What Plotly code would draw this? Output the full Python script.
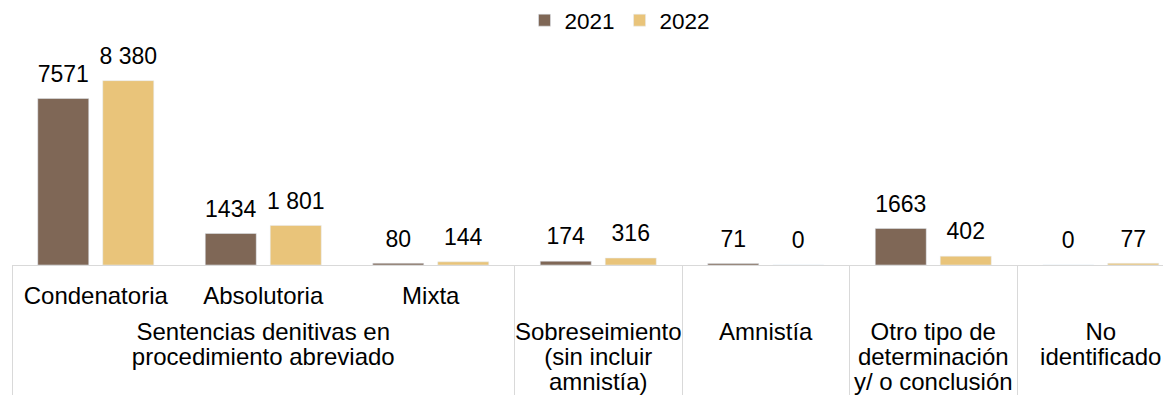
import plotly.graph_objects as go

# Data
group_lines = [
    ["Sentencias denitivas en", "procedimiento abreviado"],
    ["Sentencias denitivas en", "procedimiento abreviado"],
    ["Sentencias denitivas en", "procedimiento abreviado"],
    ["Sobreseimiento", "(sin incluir", "amnistía)"],
    ["Amnistía"],
    ["Otro tipo de", "determinación", "y/ o conclusión"],
    ["No", "identificado"],
]
subcategories = ["Condenatoria", "Absolutoria", "Mixta", " ", " ", " ", " "]
values_2021 = [7571, 1434, 80, 174, 71, 1663, 0]
values_2022 = [8380, 1801, 144, 316, 0, 402, 77]
series_names = ["2021", "2022"]

labels_2021 = [str(v) for v in values_2021]
labels_2022 = [f"{v:,}".replace(",", " ") for v in values_2022]

FONT = "Arial, Liberation Sans, sans-serif"
C2021 = "#7F6756"
C2022 = "#E9C47A"
LABEL_SIZE = 23
TICK_SIZE = 24


def transp(px):
    return f"<span style='font-size:{px}px;color:rgba(0,0,0,0)'>.</span>"


def padded(labels):
    # value label on line 1; a small transparent second line keeps a gap above the bar
    return [f"<span style='font-size:{LABEL_SIZE}px'>{t}</span><br>{transp(8)}" for t in labels]


group_text = ["<br>".join(f"<span style='font-size:{TICK_SIZE}px'>{ln}</span>" for ln in g)
              for g in group_lines]
sub_text = [f"<span style='font-size:{TICK_SIZE}px'>{s}</span><br>{transp(8)}" for s in subcategories]

x = [group_text, sub_text]

fig = go.Figure()
for name, vals, labs, col in [
    (series_names[0], values_2021, labels_2021, C2021),
    (series_names[1], values_2022, labels_2022, C2022),
]:
    fig.add_trace(go.Bar(
        x=x, y=vals, name=name, marker_color=col,
        text=padded(labs), textposition="outside", cliponaxis=False,
        constraintext="none", textfont=dict(size=9, color="#000000", family=FONT),
    ))

W, H = 1171, 402
OFF = 8  # page body margin
ml, mr, mt, mb = 12 - OFF, OFF, 67 - OFF, 402 - (265 - OFF)
cat_px = 167.5
plot_w = W - ml - mr
plot_h = H - mt - mb
span = plot_w / cat_px

fig.update_layout(
    width=W, height=H,
    margin=dict(l=ml, r=mr, t=mt, b=mb, pad=0, autoexpand=False),
    paper_bgcolor="white", plot_bgcolor="white",
    barmode="group", bargap=0.224, bargroupgap=0.215,
    font=dict(family=FONT, size=22, color="#000000"),
    showlegend=True,
    legend=dict(
        orientation="h", x=(612 - ml) / plot_w, xanchor="center",
        y=(plot_h + mt + 9) / plot_h, yanchor="top",
        font=dict(size=22.5, family=FONT, color="#000000"),
        itemwidth=30, traceorder="normal", bgcolor="rgba(0,0,0,0)",
    ),
)
fig.update_xaxes(
    type="multicategory",
    range=[-0.5, -0.5 + span],
    showline=True, linecolor="#D9D9D9", linewidth=1,
    showdividers=True, dividercolor="#D9D9D9", dividerwidth=1,
    ticks="", ticklabelstandoff=15,
    tickfont=dict(size=19.2, family=FONT, color="#000000"),
    showgrid=False, zeroline=False,
)
fig.update_yaxes(
    range=[0, 9000], visible=False, showgrid=False, zeroline=False,
)

fig.write_html("out.html")
